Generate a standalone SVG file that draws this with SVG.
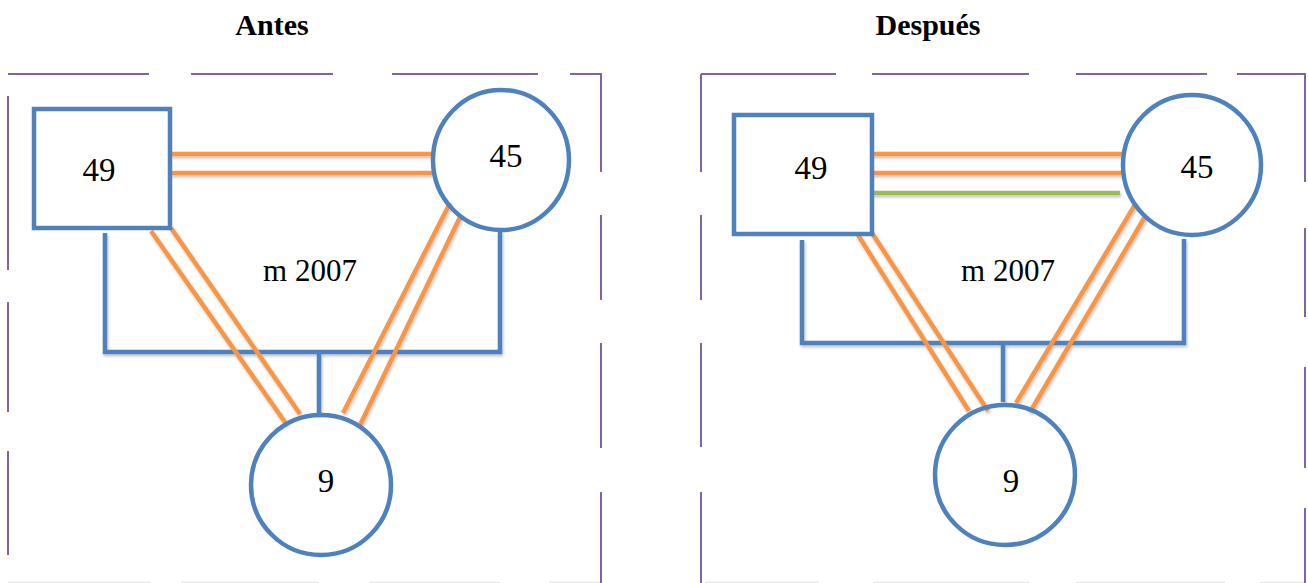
<svg xmlns="http://www.w3.org/2000/svg" width="1308" height="583" viewBox="0 0 1308 583">
<defs>
<filter id="sh" x="-20%" y="-20%" width="140%" height="140%">
<feGaussianBlur in="SourceAlpha" stdDeviation="1.5"/>
<feOffset dx="1" dy="2" result="b"/>
<feComponentTransfer><feFuncA type="linear" slope="0.25"/></feComponentTransfer>
<feMerge><feMergeNode/><feMergeNode in="SourceGraphic"/></feMerge>
</filter>
</defs>
<style>
text{font-family:'Liberation Serif','DejaVu Serif',serif;fill:#000;text-anchor:middle}
.title{font-size:30px;font-weight:bold}
.lbl{font-size:33px}
.mid{font-size:31px}
.node{fill:none;stroke:#4F81BD;stroke-width:4.5}
.blue{fill:none;stroke:#4F81BD;stroke-width:4.5}
.or{stroke:#F79646;stroke-width:4.5;fill:none}
.gr{stroke:#9BBB59;stroke-width:4.5;fill:none}
.frame{fill:none;stroke:#8064A2;stroke-width:2}
.frameb{fill:none;stroke:#E6E6E6;stroke-width:1.5}
</style>
<rect width="1308" height="583" fill="#fff"/>
<g font-family="Liberation Serif, serif">
<text class="title" x="272" y="35">Antes</text>
<text class="title" x="928" y="35">Después</text>
</g>
<g id="frames">
<path class="frame" d="M8 74H149M191 74H333M392 74H538M570 74H601V172M601 215V300M601 343V448M601 492V583M8 96V270M8 302V412M8 451V555"/>
<path class="frame" d="M701 74H836M872 74H1029M1076 74H1207M1237 74H1305V182M1305 228V317M1305 367V468M1305 508V583M701 74V172M701 215V300M701 343V447M701 492V583"/>
<path class="frameb" d="M8 582.5H150M181 582.5H319M370 582.5H500M549 582.5H600M705 582.5H819M873 582.5H1029M1076 582.5H1225M1260 582.5H1304"/>
</g>
<g id="connectors" filter="url(#sh)">
<path class="blue" d="M105 233V352H500V231M319 352V415"/>
<path class="or" d="M171 154H432M171 173H432M151 231L287 425M171 228L300 414M450 203L343 413M461 215L360 425"/>
<path class="blue" d="M802 240V343H1184V239M1003 343V402"/>
<path class="or" d="M872 154H1122M872 173H1122M858 235L969 411M872 233L988 411M1136 203L1016 403M1146 215L1030 412"/>
<path class="gr" d="M872 193H1120"/>
</g>
<g id="a49"><rect class="node" x="34" y="109" width="136" height="119"/><text class="lbl" x="99" y="181">49</text></g>
<g id="a45"><ellipse class="node" cx="501" cy="160" rx="68" ry="70"/><text class="lbl" x="506" y="167">45</text></g>
<g id="a9"><ellipse class="node" cx="321" cy="485" rx="70" ry="70"/><text class="lbl" x="326" y="492">9</text></g>
<g id="alabel"><text class="mid" x="310" y="281">m 2007</text></g>
<g id="d49"><rect class="node" x="734" y="115" width="138" height="119"/><text class="lbl" x="811" y="179">49</text></g>
<g id="d45"><ellipse class="node" cx="1192" cy="165" rx="69" ry="70"/><text class="lbl" x="1197" y="178">45</text></g>
<g id="d9"><ellipse class="node" cx="1005" cy="475" rx="70" ry="70"/><text class="lbl" x="1011" y="492">9</text></g>
<g id="dlabel"><text class="mid" x="1008" y="281">m 2007</text></g>
</svg>
